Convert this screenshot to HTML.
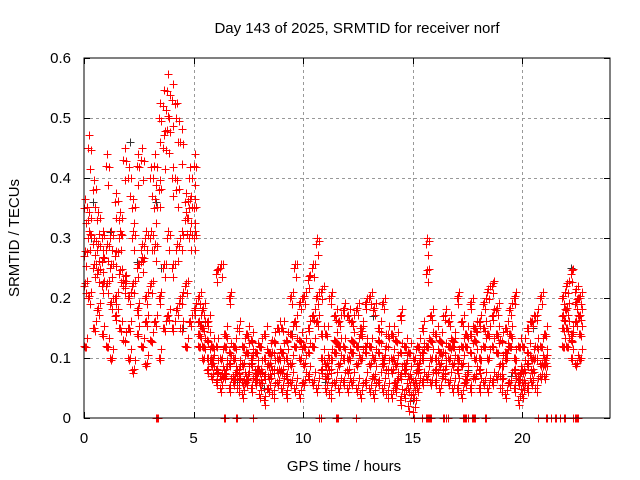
<!DOCTYPE html>
<html><head><meta charset="utf-8"><style>
body{margin:0;background:#fff;width:640px;height:480px;overflow:hidden}
svg{display:block;font-family:"Liberation Sans",sans-serif}
</style></head><body>
<svg id="chart" width="640" height="480" viewBox="0 0 640 480" xmlns="http://www.w3.org/2000/svg">
<rect x="0" y="0" width="640" height="480" fill="#fff"/>
<text x="357" y="33" font-size="15" text-anchor="middle">Day 143 of 2025, SRMTID for receiver norf</text>
<text transform="translate(19,238) rotate(-90)" font-size="15" text-anchor="middle">SRMTID / TECUs</text>
<text x="344" y="471" font-size="15" text-anchor="middle">GPS time / hours</text>
<g id="grid"></g><g id="ticks"></g><g id="gray"></g><g id="red"></g>
<rect x="84" y="58" width="526" height="360" fill="none" stroke="#000" stroke-width="1"/>
</svg>
<script>
const xTicks=[0,5,10,15,20];
const yTicks=[0,0.1,0.2,0.3,0.4,0.5,0.6];
const yTickLabels=["0","0.1","0.2","0.3","0.4","0.5","0.6"];
const redStart=0, redStep=0.2;
const redA=[.12,.2,.15,.18,.14, .12,.1,.17,.15,.13, .1,.08,.14,.12,.09, .13,.16,.1,.15,.17, .15,.18,.15,.12,.16, .18,.12,.1,.08,.07, .06,.05,.07,.05,.06, .05,.04,.06,.05,.06, .04,.03,.05,.04,.06, .05,.04,.06,.05,.04, .06,.07,.06,.05,.08, .05,.04,.06,.05,.06, .05,.06,.05,.04,.06, .05,.04,.06,.05,.04, .04,.05,.03,.04,.02, .01,.05,.06,.07,.06, .06,.05,.07,.06,.05, .05,.04,.06,.05,.07, .05,.06,.05,.06,.07, .05,.04,.06,.05,.03, .04,.05,.06,.05,.07, .07,null,null,null,.12, .12,.1,.09,.1];
const redB=[.27,.3,.25,.28,.22, .22,.25,.2,.24,.22, .2,.22,.18,.26,.2, .22,.28,.2,.25,.3, .25,.28,.2,.22,.3, .3,.16,.15,.13,.1, .12,.1,.08,.09,.1, .08,.09,.07,.1,.08, .08,.07,.09,.08,.1, .08,.1,.09,.12,.1, .12,.15,.17,.2,.14, .09,.1,.11,.12,.1, .1,.11,.12,.1,.12, .09,.1,.11,.09,.08, .08,.09,.07,.08,.07, .06,.08,.1,.12,.1, .1,.09,.11,.1,.12, .1,.09,.12,.11,.1, .1,.12,.14,.12,.11, .09,.1,.12,.08,.07, .08,.09,.1,.1,.12, .1,null,null,null,.15, .15,.13,.16,.14];
const redC=[.35,.45,.38,.33,.3, .42,.3,.36,.33,.43, .4,.35,.42,.43,.3, .4,.42,.5,.52,.545, .53,.5,.46,.36,.35, .42,.2,.18,.16,.12, .24,.25,.14,.2,.12, .15,.12,.14,.13,.11, .12,.14,.11,.13,.15, .15,.13,.2,.25,.19, .2,.23,.25,.29,.21, .14,.2,.17,.16,.18, .17,.16,.18,.15,.19, .2,.18,.15,.19,.14, .14,.13,.17,.12,.11, .1,.12,.15,.29,.17, .14,.13,.17,.16,.13, .2,.16,.14,.19,.15, .16,.19,.21,.22,.18, .13,.15,.18,.2,.12, .12,.15,.16,.17,.2, .14,null,null,null,.2, .22,.24,.21,.2];
const redD=[.22,.33,.29,.24,.26, .28,.19,.27,.3,.23, .15,.3,.25,.28,.16, .3,.35,.38,.45,.48, .4,.38,.3,.33,.4, .35,.14,.12,.1,.09, .08,.07,.12,.11,.07, .07,.06,.11,.09,.07, .06,.1,.07,.11,.08, .11,.07,.14,.16,.13, .09,.11,.12,.16,.1, .07,.08,.13,.09,.12, .08,.13,.09,.14,.11, .12,.07,.13,.1,.12, .1,.06,.11,.09,.05, .04,.09,.11,.24,.13, .08,.11,.08,.12,.09, .08,.12,.07,.14,.13, .08,.15,.1,.17,.14, .07,.11,.14,.1,.06, .06,.11,.08,.12,.09, .09,null,null,null,.17, .18,.14,.19,.17];
const zeroTimes=[3.3,3.35,6.4,6.95,7.7,10.7,10.8,11.5,11.55,12.4,15.4,15.6,15.7,15.8,16.4,16.5,16.6,17.3,17.4,17.5,17.7,17.8,18.3,20.7,21.1,21.3,21.5,21.7,21.9,22.3,22.4,22.5];
const grayTimes=[0.3,0.4,1.2,2.1,2.4,3.3,3.5,4.5,4.8,5.5,7.0,8.2,9.5,11.0,12.5,13.2,14.0,15.0,17.5,19.5,20.5,22.2];
const grayValues=[0.3,0.36,0.31,0.46,0.26,0.36,0.25,0.15,0.35,0.16,0.06,0.05,0.14,0.06,0.12,0.17,0.1,0.03,0.08,0.07,0.15,0.25];

const X0=84,X1=610,Y0=418,Y1=58,XMAX=24,YMAX=0.6;
const sx=t=>X0+(X1-X0)*t/XMAX;
const sy=v=>Y0-(Y0-Y1)*v/YMAX;
const NS="http://www.w3.org/2000/svg";
function mk(tag,parent,attrs){const e=document.createElementNS(NS,tag);for(const k in attrs)e.setAttribute(k,attrs[k]);parent.appendChild(e);return e;}
const grid=document.getElementById('grid'),ticks=document.getElementById('ticks');
xTicks.forEach(t=>{
  const x=Math.round(sx(t))+0.5;
  if(t>0){const g=mk('line',grid,{x1:x,x2:x,y1:Y1,y2:Y0,stroke:'#999','stroke-dasharray':'3,3'});
  
  }
  const a=mk('line',ticks,{x1:x,x2:x,y1:Y0,y2:Y0-6,stroke:'#000'});
  
  
  const b=mk('line',ticks,{x1:x,x2:x,y1:Y1,y2:Y1+6,stroke:'#000'});
  
  
  const l=mk('text',ticks,{x:sx(t),y:443,'font-size':15,'text-anchor':'middle'});
  l.textContent=String(t);
  
  
});
yTicks.forEach((v,i)=>{
  const y=Math.round(sy(v))+0.5;
  if(v>0&&v<YMAX){const g=mk('line',grid,{x1:X0,x2:X1,y1:y,y2:y,stroke:'#999','stroke-dasharray':'3,3'});
  
  }
  const a=mk('line',ticks,{x1:X0,x2:X0+6,y1:y,y2:y,stroke:'#000'});
  
  
  const b=mk('line',ticks,{x1:X1,x2:X1-6,y1:y,y2:y,stroke:'#000'});
  
  
  const l=mk('text',ticks,{x:71,y:sy(v)+5,'font-size':15,'text-anchor':'end'});
  l.textContent=yTickLabels[i];
  
  
});
function cross(parent,t,v,color,name){
  const x=Math.round(sx(t))+0.5,y=Math.round(sy(v))+0.5;
  const p=mk('path',parent,{d:`M${x-4} ${y}H${x+4}M${x} ${y-4}V${y+4}`,stroke:color,'stroke-width':1,fill:'none'});
  
  
}
const gray=document.getElementById('gray'),red=document.getElementById('red');
grayTimes.forEach((t,i)=>cross(gray,t,grayValues[i],'#333','gray-point'));
[redA,redB,redC,redD].forEach(arr=>arr.forEach((v,i)=>{
  if(v===null)return;
  const t=redStart+i*redStep;
  cross(red,t,v,'#f00','red-point');
  cross(red,t+0.08,v*0.9+0.01,'#f00','red-point');
  cross(red,t+0.05,v*1.07-0.01,'#f00','red-point');
  cross(red,t+0.13,v*0.95+0.02,'#f00','red-point');
}));
zeroTimes.forEach(t=>{cross(red,t,0,'#f00','zero-point');cross(red,t+0.03,0,'#f00','zero-point');});
</script>
</body></html>
